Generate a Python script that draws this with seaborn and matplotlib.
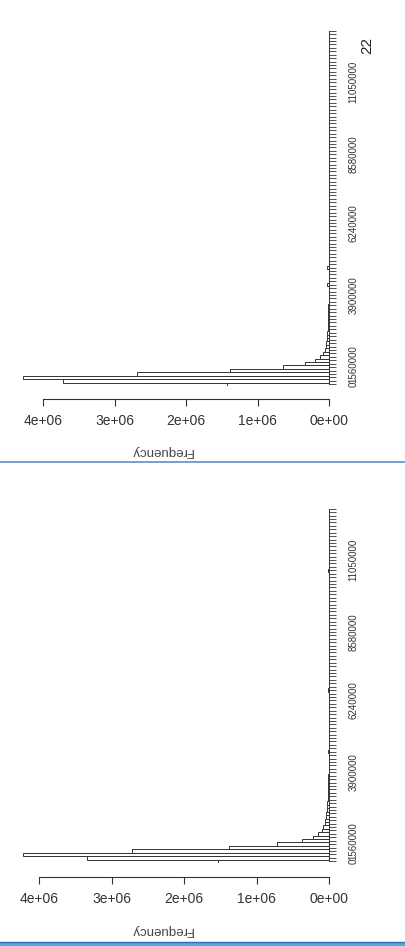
import numpy as np
import pandas as pd
import matplotlib
matplotlib.use('Agg')
import matplotlib.pyplot as plt
from matplotlib.lines import Line2D
from matplotlib.patches import Rectangle
import seaborn as sns

# bar counts (thousands), bin 0 = lowest bin
top_freq_k = [1420, 3720, 4280, 2690, 1380, 640, 340, 200, 130, 90, 60, 45,
              36, 30, 25, 21, 18, 15, 13, 11, 10, 9, 8, 7, 6, 6,
              5, 5, 5, 25, 4, 4, 4, 4, 25, 3, 3, 3, 3, 3, 3,
              2, 2, 2, 2, 2, 2, 2, 2, 2, 2, 2, 2, 2, 2, 2, 2, 2, 2, 2, 2,
              2, 2, 2, 2, 2, 2, 2, 2, 2, 2, 2, 2, 2, 2, 2, 2, 2, 2, 2, 2,
              2, 2, 2, 2, 2, 2, 2, 2, 2, 2, 2, 2, 2, 2, 2, 2, 2, 2, 2, 2,
              2, 2, 2]
bottom_freq_k = [1530, 3340, 4220, 2720, 1380, 720, 370, 220, 150, 100, 80, 60,
                 50, 42, 36, 30, 26, 22, 19, 16, 14, 12, 10, 9, 8, 7,
                 6, 6, 5, 5, 5, 4, 20, 4, 4, 3, 3, 3, 3, 3, 3,
                 2, 2, 2, 2, 2, 2, 2, 2, 2, 20, 2, 2, 2, 2, 2, 2, 2, 2, 2, 2,
                 2, 2, 2, 2, 2, 2, 2, 2, 2, 2, 2, 2, 2, 2, 2, 2, 2, 2, 2, 2,
                 2, 2, 2, 2, 20, 2, 2, 2, 2, 2, 2, 2, 2, 2, 2, 2, 2, 2, 2, 2,
                 2, 2, 2]

# bin names that R managed to print (the others overlap and are dropped)
tick_labels = ['0', '1560000', '3900000', '6240000', '8580000', '11050000']
tick_bins = [0, 6, 26, 47, 67, 88]

freq_ticks = [0, 1e6, 2e6, 3e6, 4e6]
freq_ticklabels = ['0e+00', '1e+06', '2e+06', '3e+06', '4e+06']

sns.set_style('white')
plt.rcParams['font.family'] = ['Liberation Sans', 'DejaVu Sans']

W, H = 405, 946
TXT = '#444444'
fig = plt.figure(figsize=(W / 100, H / 100), dpi=100)


def px_axes(x0, y0, x1, y1):
    # pixel box (top-left origin) -> figure axes
    return fig.add_axes([x0 / W, 1 - y1 / H, (x1 - x0) / W, (y1 - y0) / H])


def draw_panel(ax, freq_k, px_per_m, axis_gap):
    n = len(freq_k)
    df = pd.DataFrame({'bin': np.arange(n), 'freq': np.array(freq_k) * 1000.0})
    sns.barplot(data=df, x='freq', y='bin', orient='h', order=list(range(n)),
                color='white', saturation=1, edgecolor='#333333', linewidth=0.7,
                width=1.0, ax=ax)
    width_px = ax.get_position().width * W
    ax.set_xlim(width_px / px_per_m * 1e6, 0)
    ax.set_ylim(-0.5, n - 0.5)

    # category axis on the right, one tick per bar
    ax.yaxis.tick_right()
    ax.yaxis.set_label_position('right')
    ax.set_yticks(range(n))
    lbls = [''] * n
    for b, t in zip(tick_bins, tick_labels):
        lbls[b] = t
    ax.set_yticklabels(lbls, rotation=90, va='center', ha='left',
                       fontsize=7, color=TXT)
    ax.tick_params(axis='y', right=True, direction='out', length=5,
                   width=0.6, pad=9, colors='#333333')
    ax.set_ylabel('')

    # frequency axis, detached like base R
    ax.set_xticks(freq_ticks)
    ax.set_xticklabels(freq_ticklabels, rotation=180, fontsize=9.5, color=TXT)
    ax.tick_params(axis='x', bottom=True, direction='out', length=5,
                   width=0.8, pad=6, colors='#333333')
    ax.set_xlabel('Frequency', rotation=180, fontsize=9.5, color=TXT)

    for s in ['top', 'left']:
        ax.spines[s].set_visible(False)
    ax.spines['right'].set_bounds(0, n - 1)
    ax.spines['right'].set_linewidth(0.7)
    ax.spines['bottom'].set_position(('outward', axis_gap * 0.72))
    ax.spines['bottom'].set_bounds(0, 4e6)
    ax.spines['bottom'].set_linewidth(0.8)
    for s in ['right', 'bottom']:
        ax.spines[s].set_color('#333333')
    ax.grid(False)


ax_top = px_axes(15, 29, 329, 386)
draw_panel(ax_top, top_freq_k, 71.5, 13)
ax_top.xaxis.set_label_coords(0.468, -0.165)

ax_bot = px_axes(15, 507, 329, 863)
draw_panel(ax_bot, bottom_freq_k, 72.5, 14)
ax_bot.xaxis.set_label_coords(0.468, -0.172)

# slide decorations
fig.text(367 / W, 1 - 45 / H, '22', rotation=90, fontsize=11,
         ha='center', va='center', color='#222222')
fig.add_artist(Line2D([0, 1], [1 - 462 / H, 1 - 462 / H],
                      transform=fig.transFigure, color='#5b8fc9', lw=1.2))
fig.add_artist(Rectangle((0, 0), 1, 4 / H, transform=fig.transFigure,
                         color='#56a6df', lw=0))
fig.add_artist(Line2D([0, 1], [4 / H, 4 / H], transform=fig.transFigure,
                      color='#2f6fb6', lw=1.0))

fig.savefig('out.png', dpi=100)
